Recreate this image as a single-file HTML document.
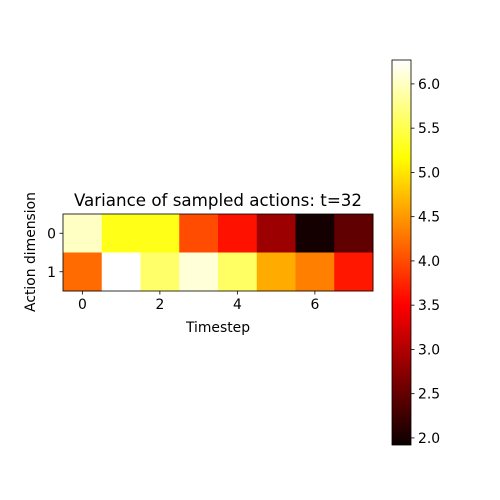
<!DOCTYPE html>
<html><head><meta charset="utf-8"><style>
body{margin:0;background:#fff}
svg{display:block;font-family:"DejaVu Sans","Liberation Sans",sans-serif}
</style></head><body>
<svg id="c" width="500" height="500" viewBox="0 0 500 500">
<rect width="500" height="500" fill="#fff"/>
<defs><linearGradient id="hot" x1="0" y1="1" x2="0" y2="0">
<stop offset="0" stop-color="#0b0000"/><stop offset="0.365" stop-color="#ff0000"/>
<stop offset="0.746" stop-color="#ffff00"/><stop offset="1" stop-color="#ffffff"/></linearGradient></defs>
<text x="218" y="206" font-size="16.7" text-anchor="middle" fill="#000">Variance of sampled actions: t=32</text>
<text x="218" y="332" font-size="13.9" text-anchor="middle">Timestep</text>
<text transform="translate(35,252) rotate(-90)" font-size="13.9" text-anchor="middle">Action dimension</text>
<g id="cells"></g><g id="axes"></g>
<rect x="392" y="60" width="19" height="385" fill="url(#hot)" stroke="#000" stroke-width="0.8"/>
<g id="cb"></g>
</svg>
<script>
const timesteps=[0,1,2,3,4,5,6,7];
const dims=[0,1];
const row0=[6.01,5.27,5.27,4.0,3.62,2.87,1.98,2.48];
const row1=[4.2,6.27,5.62,6.1,5.6,4.62,4.33,3.66];
const xTicks=[0,2,4,6];
const cbTicks=[2.0,2.5,3.0,3.5,4.0,4.5,5.0,5.5,6.0];
const vmin=1.92,vmax=6.27;
const NS="http://www.w3.org/2000/svg";
const X0=63,X1=373,Y0=214,Y1=291;
const cw=(X1-X0)/timesteps.length,ch=(Y1-Y0)/dims.length;
const xs=i=>X0+(i+0.5)*cw, ys=j=>Y0+(j+0.5)*ch;
const cbY=v=>445-(v-vmin)/(vmax-vmin)*385;
function hot(v){let n=Math.max(0,Math.min(1,(v-vmin)/(vmax-vmin)));
 const r=Math.min(1,0.0416+n/0.365*(1-0.0416)),g=Math.max(0,Math.min(1,(n-0.365)/0.381)),b=Math.max(0,Math.min(1,(n-0.746)/0.254));
 return `rgb(${Math.round(r*255)},${Math.round(g*255)},${Math.round(b*255)})`;}
function mk(t,a,p){const e=document.createElementNS(NS,t);for(const k in a)e.setAttribute(k,a[k]);p.appendChild(e);return e;}
const cells=document.getElementById('cells'),axes=document.getElementById('axes'),cb=document.getElementById('cb');
[row0,row1].forEach((row,j)=>row.forEach((v,i)=>{
 const r=mk('rect',{x:xs(i)-cw/2,y:ys(j)-ch/2,width:cw+0.5,height:ch+0.5,fill:hot(v)},cells);
 
 
}));
const fr=mk('rect',{x:X0,y:Y0,width:X1-X0,height:Y1-Y0,fill:'none',stroke:'#000','stroke-width':0.8},axes);


xTicks.forEach(t=>{
 mk('line',{x1:xs(t),x2:xs(t),y1:Y1,y2:Y1+3.5,stroke:'#000','stroke-width':0.8},axes);
 const tx=mk('text',{x:xs(t),y:Y1+18,'font-size':13.9,'text-anchor':'middle'},axes);tx.textContent=t;
 
 
});
dims.forEach(d=>{
 mk('line',{x1:X0-3.5,x2:X0,y1:ys(d),y2:ys(d),stroke:'#000','stroke-width':0.8},axes);
 const tx=mk('text',{x:X0-7,y:ys(d)+5,'font-size':13.9,'text-anchor':'end'},axes);tx.textContent=d;
 
 
});
cbTicks.forEach(t=>{
 mk('line',{x1:411,x2:414.5,y1:cbY(t),y2:cbY(t),stroke:'#000','stroke-width':0.8},cb);
 const tx=mk('text',{x:418,y:cbY(t)+5,'font-size':13.9},cb);tx.textContent=t.toFixed(1);
 
 
});
</script>
</body></html>
